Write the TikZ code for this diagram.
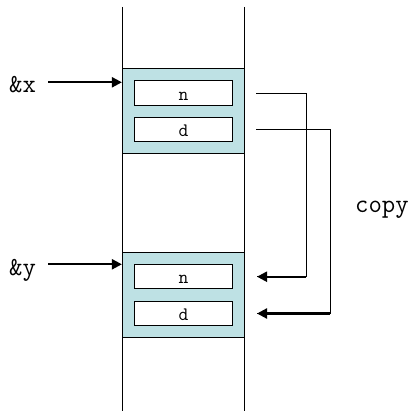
\documentclass[tikz,border=0pt]{standalone}
\usetikzlibrary{arrows.meta}
\definecolor{cellfill}{RGB}{190,225,228}
\begin{document}
\begin{tikzpicture}[x=1pt,y=-1pt,
  lane/.style={line width=1pt},
  record/.style={draw,line width=1pt,fill=cellfill,minimum width=122pt,minimum height=85pt,inner sep=0pt},
  field/.style={draw,line width=1pt,fill=white,minimum width=97.6pt,minimum height=24.5pt,inner sep=0pt,text height=14pt,text depth=0pt,font=\ttfamily\fontsize{19}{19}\selectfont},
  label/.style={font=\ttfamily\fontsize{26}{26}\selectfont,inner sep=0pt,anchor=base west},
  ptr/.style={line width=2.2pt,-{Triangle[length=10pt,width=10pt]}},
  cp/.style={line width=1pt},
  cptip/.style={line width=2.2pt,-{Triangle[length=10pt,width=10pt]}}]
\useasboundingbox (0,0) rectangle (414,411);
\coordinate (l1) at (122.3,7);
\coordinate (l2) at (122.3,411);
\coordinate (r1) at (244.5,7);
\coordinate (r2) at (244.5,411);
\draw[lane] (l1) -- (l2);
\draw[lane] (r1) -- (r2);
\node[record] (X) at (183.4,111.5) {};
\node[record] (Y) at (183.4,295.2) {};
\node[field] (xn) at (183.5,93.2) {n};
\node[field] (xd) at (183.5,129.7) {d};
\node[field] (yn) at (183.5,276.7) {n};
\node[field] (yd) at (183.5,313.5) {d};
\node[label] (ax) at (9,93) {\&x};
\node[label] (ay) at (9,275) {\&y};
\node[label] (copy) at (355,213) {copy};
\coordinate (ax0) at (48,82.3);
\coordinate (ay0) at (48,264.3);
\draw[ptr] (ax0) -- (ax0 -| X.west);
\draw[ptr] (ay0) -- (ay0 -| Y.west);
\coordinate (s1) at (256,93.2);
\coordinate (s2) at (256,129.7);
\coordinate (c1) at (306,276.7);
\coordinate (c2) at (330,313.5);
\coordinate (t1) at (257,276.7);
\coordinate (t2) at (257,313.5);
\draw[cp] (s1) -| (c1) -- (t1);
\draw[cp] (s2) -| (c2) -- (t2);
\draw[cptip] (c1) -- (t1);
\draw[cptip] (c2) -- (t2);
\end{tikzpicture}
\end{document}
